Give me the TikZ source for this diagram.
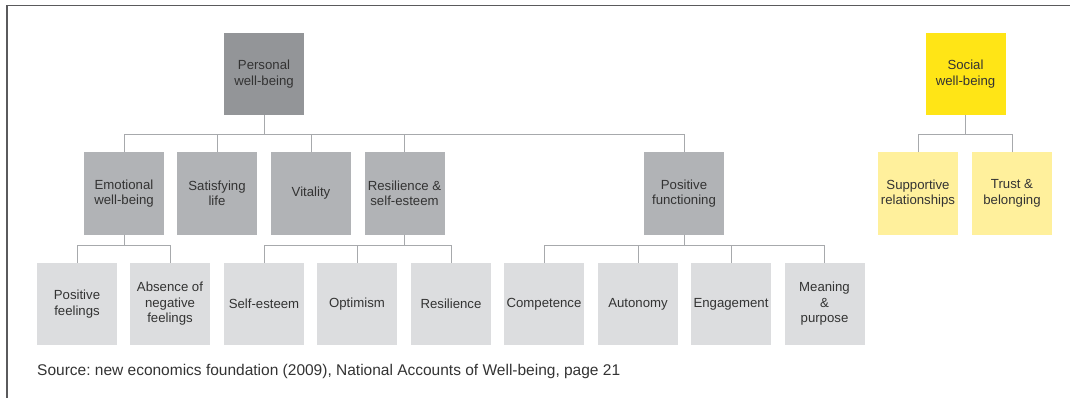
\documentclass[tikz,border=0pt]{standalone}
\usepackage{fontspec}
\setmainfont{Liberation Sans}
\frenchspacing
\definecolor{frameC}{HTML}{5A5A5C}
\definecolor{lineC}{HTML}{A7A9AC}
\definecolor{darkG}{HTML}{939598}
\definecolor{midG}{HTML}{B1B3B6}
\definecolor{lightG}{HTML}{DCDDDF}
\definecolor{yel}{HTML}{FFE516}
\definecolor{lyel}{HTML}{FFF09C}
\definecolor{txt}{HTML}{333333}
\tikzset{
  box/.style={rectangle, minimum width=80pt, minimum height=82pt, inner sep=1pt, align=center, text=txt, font=\fontsize{13.2}{15.5}\selectfont},
  lvone/.style={box, fill=darkG},
  lvtwo/.style={box, fill=midG},
  lvthree/.style={box, fill=lightG},
  soctop/.style={box, fill=yel},
  socsub/.style={box, fill=lyel},
  conn/.style={draw=lineC, line width=1pt},
}
\begin{document}
\begin{tikzpicture}[x=1pt, y=-1pt]
\useasboundingbox (0,0) rectangle (1070,398);
\draw[frameC, line width=1.5pt] (1070,5.5) coordinate (fr1) -- (7,5.5) coordinate (fr2) -- (7,398) coordinate (fr3);
% level 1
\node[lvone] (P) at (264,74) {Personal\\well-being};
\node[soctop] (S) at (965.5,74) {Social\\well-being};
% level 2
\node[lvtwo] (E) at (124,193.5) {Emotional\\well-being};
\node[lvtwo] (SL) at (217,193.5) {Satisfying\\life};
\node[lvtwo] (V) at (311,193.5) {Vitality};
\node[lvtwo] (R) at (404.5,193.5) {Resilience \&\\self-esteem};
\node[lvtwo] (PF) at (684,193.5) {Positive\\functioning};
\node[socsub] (SR) at (918,193.5) {Supportive\\relationships};
\node[socsub] (TB) at (1012,193.5) {Trust \&\\belonging};
% level 3
\node[lvthree] (PFe) at (77,304) {Positive\\feelings};
\node[lvthree] (AN) at (170,304) {Absence of\\negative\\feelings};
\node[lvthree] (SE) at (264,304) {Self-esteem};
\node[lvthree] (O) at (357,304) {Optimism};
\node[lvthree] (RS) at (451,304) {Resilience};
\node[lvthree] (C) at (544,304) {Competence};
\node[lvthree] (A) at (638,304) {Autonomy};
\node[lvthree] (EN) at (731,304) {Engagement};
\node[lvthree] (M) at (824.5,304) {Meaning\\\&\\purpose};
% buses
\coordinate (bP) at (264,134.5);
\coordinate (bS) at (965.5,134.5);
\coordinate (bE) at (124,245);
\coordinate (bR) at (404.5,245);
\coordinate (bPF) at (684,245);
\draw[conn] (P.south) -- (bP);
\foreach \n in {E,SL,V,R,PF} \draw[conn] (\n.north) |- (bP);
\draw[conn] (S.south) -- (bS);
\foreach \n in {SR,TB} \draw[conn] (\n.north) |- (bS);
\draw[conn] (E.south) -- (bE);
\foreach \n in {PFe,AN} \draw[conn] (\n.north) |- (bE);
\draw[conn] (R.south) -- (bR);
\foreach \n in {SE,O,RS} \draw[conn] (\n.north) |- (bR);
\draw[conn] (PF.south) -- (bPF);
\foreach \n in {C,A,EN,M} \draw[conn] (\n.north) |- (bPF);
\node[anchor=base west, text=txt, font=\fontsize{15.5}{18}\selectfont, inner sep=0pt] (src) at (37,375) {Source: new economics foundation (2009), National Accounts of Well-being, page 21};
\end{tikzpicture}
\end{document}
